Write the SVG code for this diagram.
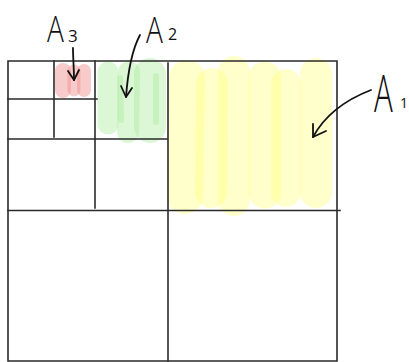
<svg xmlns="http://www.w3.org/2000/svg" width="409" height="362" viewBox="0 0 409 362">
  <style>
    .grid { stroke: #2a2a2a; stroke-width: 1.6; fill: none; stroke-linecap: square; }
    .hl { fill: none; stroke-linecap: round; }
    .red { stroke: #f08c8c; stroke-opacity: 0.45; }
    .green { stroke: #a8ec98; stroke-opacity: 0.4; }
    .yellow { stroke: #ffff78; stroke-opacity: 0.38; }
    .pen { stroke: #111; stroke-width: 1.8; fill: none; stroke-linecap: round; stroke-linejoin: round; }
    .lbl { font-family: "Open Sans", "Liberation Sans", sans-serif; font-weight: 300; fill: #111; }
    .sub { font-family: "Open Sans", "Liberation Sans", sans-serif; font-weight: 400; fill: #111; }
  </style>
  <rect width="409" height="362" fill="#ffffff"/>

  <!-- highlighter fills -->
  <g id="fill-a3">
    <line class="hl red" x1="63" y1="71" x2="63" y2="90" stroke-width="16"/>
    <line class="hl red" x1="74" y1="71" x2="74" y2="90" stroke-width="13"/>
    <line class="hl red" x1="84" y1="71" x2="84" y2="90" stroke-width="14"/>
  </g>
  <g id="fill-a2">
    <line class="hl green" x1="108" y1="72" x2="108" y2="124" stroke-width="21"/>
    <line class="hl green" x1="129" y1="72" x2="128" y2="132" stroke-width="22"/>
    <line class="hl green" x1="150" y1="74" x2="150" y2="127" stroke-width="32"/>
    <line class="hl green" x1="120" y1="78" x2="121" y2="120" stroke-width="6"/>
    <line class="hl green" x1="156" y1="76" x2="156" y2="122" stroke-width="6"/>
  </g>
  <g id="fill-a1">
    <line class="hl yellow" x1="187" y1="78" x2="185" y2="196" stroke-width="36"/>
    <line class="hl yellow" x1="212" y1="84" x2="211" y2="192" stroke-width="32"/>
    <line class="hl yellow" x1="234" y1="72" x2="234" y2="200" stroke-width="32"/>
    <line class="hl yellow" x1="265" y1="78" x2="265" y2="192" stroke-width="33"/>
    <line class="hl yellow" x1="286" y1="84" x2="286" y2="192" stroke-width="30"/>
    <line class="hl yellow" x1="316" y1="74" x2="316" y2="192" stroke-width="32"/>
  </g>

  <!-- recursive quadrant grid -->
  <g id="grid">
    <path class="grid" d="M8 61 H337 V361 H8 Z"/>
    <path class="grid" d="M8 210.5 H340"/>
    <path class="grid" d="M168 63 V361"/>
    <path class="grid" d="M8 139 H167"/>
    <path class="grid" d="M95 61 V208"/>
    <path class="grid" d="M8 99 H97"/>
    <path class="grid" d="M54 61 V137"/>
  </g>

  <!-- pointer arrows -->
  <g id="connectors">
    <path class="pen" d="M73 48 C73 58 74 68 74 80"/>
    <path class="pen" d="M68 71 L74 80 L79 70"/>
    <path class="pen" d="M140 35 C133 48 128 70 126 97"/>
    <path class="pen" d="M121 86 L126 97 L132 88"/>
    <path class="pen" d="M371 90 C345 100 325 115 313 137"/>
    <path class="pen" d="M313 124 L313 137 L326 131"/>
  </g>

  <!-- labels -->
  <g id="label-a3">
    <text class="lbl" x="47" y="42" font-size="36" transform="translate(47 0) scale(0.78 1) translate(-47 0)">A</text>
    <text class="sub" x="68" y="42" font-size="17">3</text>
  </g>
  <g id="label-a2">
    <text class="lbl" x="146" y="43" font-size="36" transform="translate(146 0) scale(0.78 1) translate(-146 0)">A</text>
    <text class="sub" x="168" y="40" font-size="16">2</text>
  </g>
  <g id="label-a1">
    <text class="lbl" x="374" y="112" font-size="52" transform="translate(374 0) scale(0.6 1) translate(-374 0)">A</text>
    <text class="sub" x="400" y="108" font-size="14">1</text>
  </g>
</svg>
